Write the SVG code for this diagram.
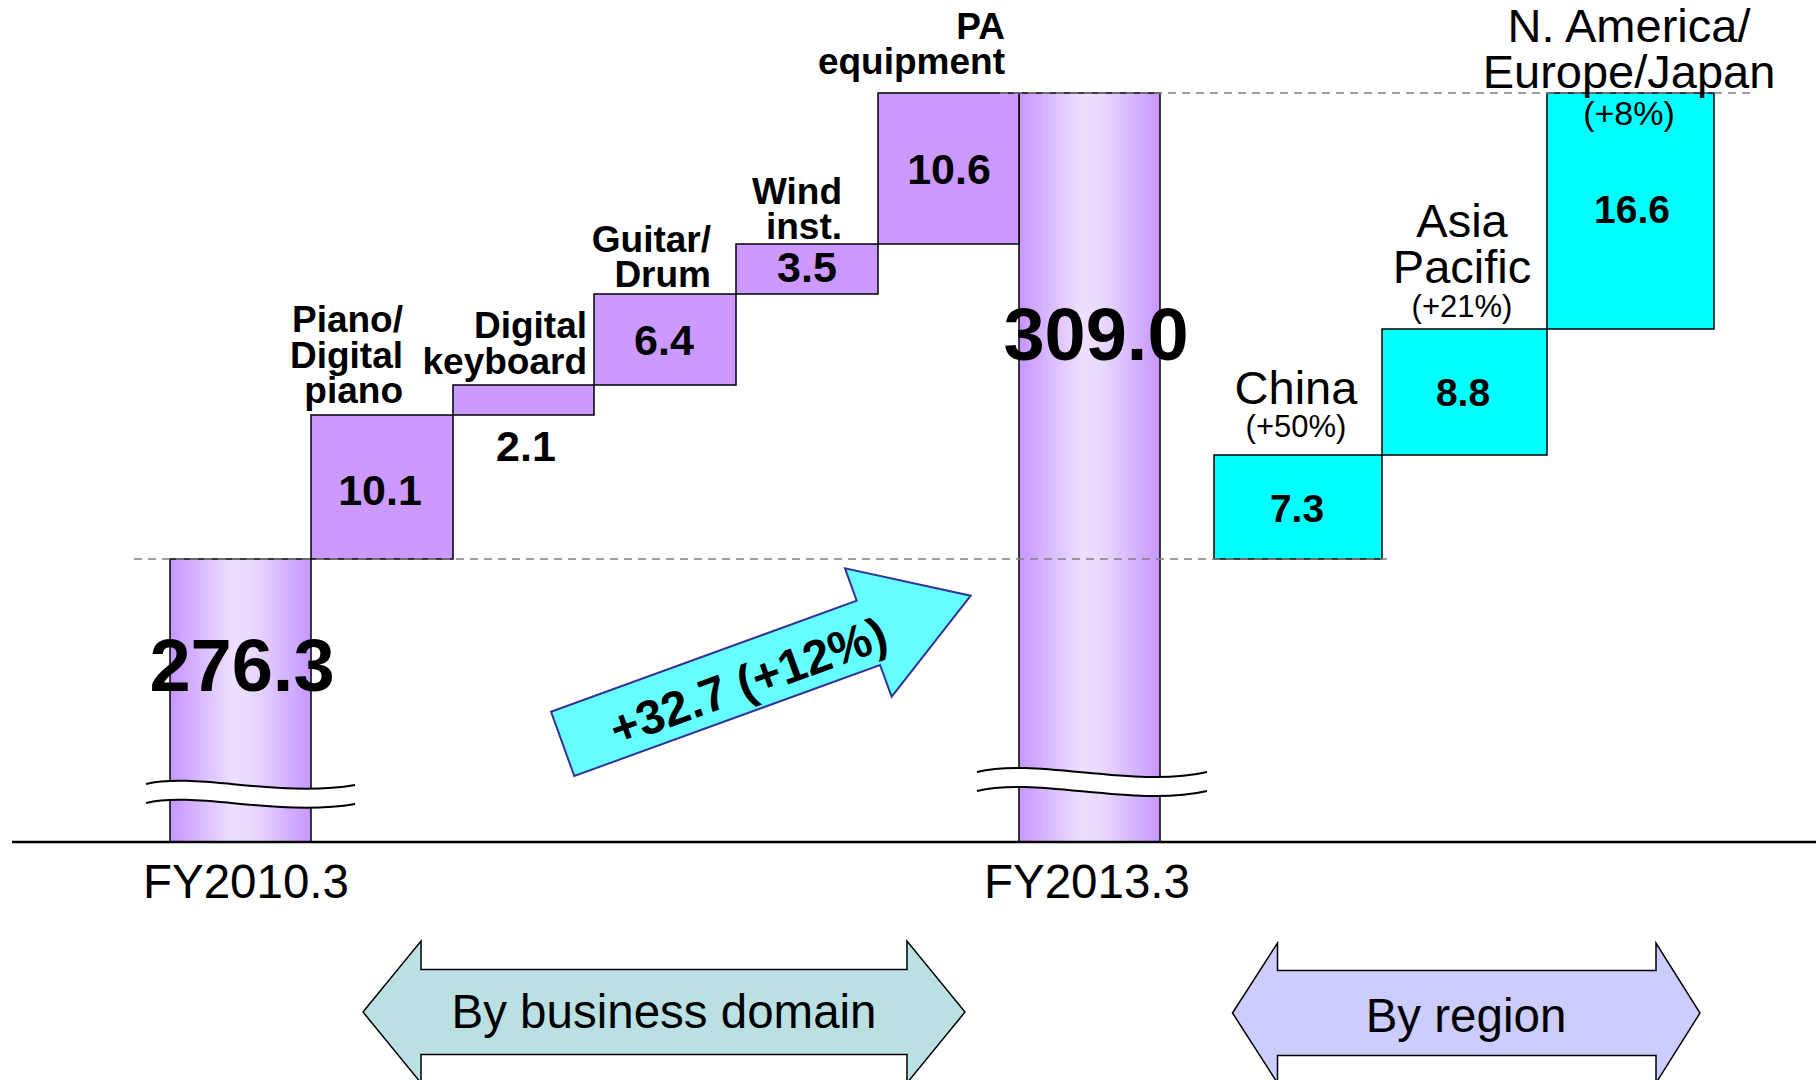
<svg xmlns="http://www.w3.org/2000/svg" width="1816" height="1080" viewBox="0 0 1816 1080">
  <defs>
    <linearGradient id="barFill" x1="0" y1="0" x2="1" y2="0">
      <stop offset="0" stop-color="#C696FF"/>
      <stop offset="0.45" stop-color="#EEE0FF"/>
      <stop offset="0.6" stop-color="#E8D8FF"/>
      <stop offset="1" stop-color="#C696FF"/>
    </linearGradient>
    <style>
      .bar { fill: url(#barFill); stroke: #000; stroke-width: 1.5; }
      .step { fill: #CC99FF; stroke: #000; stroke-width: 1.5; }
      .region { fill: #00FFFF; stroke: #000; stroke-width: 1.5; }
      .dash { stroke: #808080; stroke-width: 1.6; stroke-dasharray: 8 6; fill: none; }
      .gap { fill: #FFFFFF; stroke: none; }
      .wave { fill: none; stroke: #000; stroke-width: 2; }
      .cat { font-family: "Liberation Sans", Arial, sans-serif; font-weight: bold; font-size: 37px; text-anchor: end; fill: #000; }
      .val { font-family: "Liberation Sans", Arial, sans-serif; font-weight: bold; font-size: 43px; text-anchor: middle; fill: #000; }
      .big { font-family: "Liberation Sans", Arial, sans-serif; font-weight: bold; font-size: 74px; text-anchor: middle; fill: #000; }
      .rval { font-family: "Liberation Sans", Arial, sans-serif; font-weight: bold; font-size: 39px; text-anchor: middle; fill: #000; }
      .rname { font-family: "Liberation Sans", Arial, sans-serif; font-size: 47px; text-anchor: middle; fill: #000; }
      .pct { font-family: "Liberation Sans", Arial, sans-serif; font-size: 31px; text-anchor: middle; fill: #000; }
      .year { font-family: "Liberation Sans", Arial, sans-serif; font-size: 47.5px; text-anchor: middle; fill: #000; }
      .band { font-family: "Liberation Sans", Arial, sans-serif; font-size: 47.5px; text-anchor: middle; fill: #000; }
      .delta { font-family: "Liberation Sans", Arial, sans-serif; font-weight: bold; font-size: 48px; text-anchor: middle; fill: #000; }
    </style>
  </defs>

  <!-- totals -->
  <g id="total-fy2010">
    <rect class="bar" x="170" y="559" width="141" height="283"/>
    <path class="gap" d="M146,784 C195,772 280,798 355,785 L355,804 C280,817 195,791 146,803 Z"/>
    <path class="wave" d="M146,784 C195,772 280,798 355,785"/>
    <path class="wave" d="M146,803 C195,791 280,817 355,804"/>
    <text class="big" x="242" y="691">276.3</text>
    <text class="year" x="246" y="898">FY2010.3</text>
  </g>

  <g id="total-fy2013">
    <rect class="bar" x="1019" y="93" width="141" height="749"/>
    <path class="gap" d="M977,772 C1035,757 1135,789 1207,772 L1207,791 C1135,808 1035,776 977,791 Z"/>
    <path class="wave" d="M977,772 C1035,757 1135,789 1207,772"/>
    <path class="wave" d="M977,791 C1035,776 1135,808 1207,791"/>
    <text class="big" x="1096" y="360">309.0</text>
    <text class="year" x="1087" y="898">FY2013.3</text>
  </g>

  <!-- business domain steps -->
  <g id="step-piano">
    <rect class="step" x="311" y="415" width="142" height="144"/>
    <text class="val" x="380" y="505">10.1</text>
    <text class="cat" x="403" y="332">Piano/</text>
    <text class="cat" x="403" y="368">Digital</text>
    <text class="cat" x="403" y="403">piano</text>
  </g>

  <g id="step-keyboard">
    <rect class="step" x="453" y="385" width="141" height="30"/>
    <text class="val" x="526" y="461">2.1</text>
    <text class="cat" x="587" y="338">Digital</text>
    <text class="cat" x="587" y="374">keyboard</text>
  </g>

  <g id="step-guitar">
    <rect class="step" x="594" y="294" width="142" height="91"/>
    <text class="val" x="664" y="355">6.4</text>
    <text class="cat" x="711" y="252">Guitar/</text>
    <text class="cat" x="711" y="287">Drum</text>
  </g>

  <g id="step-wind">
    <rect class="step" x="736" y="244" width="142" height="50"/>
    <text class="val" x="807" y="282">3.5</text>
    <text class="cat" x="842" y="204">Wind</text>
    <text class="cat" x="842" y="239">inst.</text>
  </g>

  <g id="step-pa">
    <rect class="step" x="878" y="93" width="141" height="151"/>
    <text class="val" x="949" y="184">10.6</text>
    <text class="cat" x="1005" y="39">PA</text>
    <text class="cat" x="1005" y="74">equipment</text>
  </g>

  <!-- regional steps -->
  <g id="region-china">
    <rect class="region" x="1214" y="455" width="168" height="104"/>
    <text class="rval" x="1297" y="522">7.3</text>
    <text class="rname" x="1296" y="404">China</text>
    <text class="pct" x="1296" y="437">(+50%)</text>
  </g>

  <g id="region-asia">
    <rect class="region" x="1382" y="329" width="165" height="126"/>
    <text class="rval" x="1463" y="406">8.8</text>
    <text class="rname" x="1462" y="237">Asia</text>
    <text class="rname" x="1462" y="283">Pacific</text>
    <text class="pct" x="1462" y="317">(+21%)</text>
  </g>

  <g id="region-na">
    <rect class="region" x="1547" y="93" width="167" height="236"/>
    <text class="rval" x="1632" y="223">16.6</text>
  </g>

  <!-- reference levels -->
  <g id="levels">
    <line class="dash" x1="134" y1="559" x2="1387" y2="559"/>
    <line class="dash" x1="1000" y1="93" x2="1752" y2="93"/>
  </g>

  <g id="region-na-label">
    <text class="rname" x="1629" y="42">N. America/</text>
    <text class="rname" x="1629" y="88">Europe/Japan</text>
    <text class="pct" x="1629" y="125" style="font-size:34px">(+8%)</text>
  </g>

  <!-- axis -->
  <line id="axis" x1="12" y1="842" x2="1816" y2="842" stroke="#000" stroke-width="2.5"/>

  <!-- arrows -->
  <g id="arrows">
    <g id="growth-arrow">
      <polygon points="551,711.7 856.7,600.7 845,568.3 970.7,595.7 891.7,696.7 880,665 574.3,776" fill="#66FFFF" stroke="#333399" stroke-width="2"/>
      <text class="delta" transform="translate(748,681) rotate(-20)" x="0" y="17">+32.7 (+12%)</text>
    </g>
    <g id="band-domain">
      <polygon points="363,1012 421,941 421,969.5 907,969.5 907,941 965,1012 907,1083 907,1054.5 421,1054.5 421,1083" fill="#BAE0E3" stroke="#000" stroke-width="1.5"/>
      <text class="band" x="664" y="1028">By business domain</text>
    </g>
    <g id="band-region">
      <polygon points="1232.5,1013 1277.5,943 1277.5,970.5 1656,970.5 1656,943 1700,1013 1656,1083 1656,1055.5 1277.5,1055.5 1277.5,1083" fill="#CCCCFF" stroke="#000" stroke-width="1.5"/>
      <text class="band" x="1466" y="1032">By region</text>
    </g>
  </g>
</svg>
